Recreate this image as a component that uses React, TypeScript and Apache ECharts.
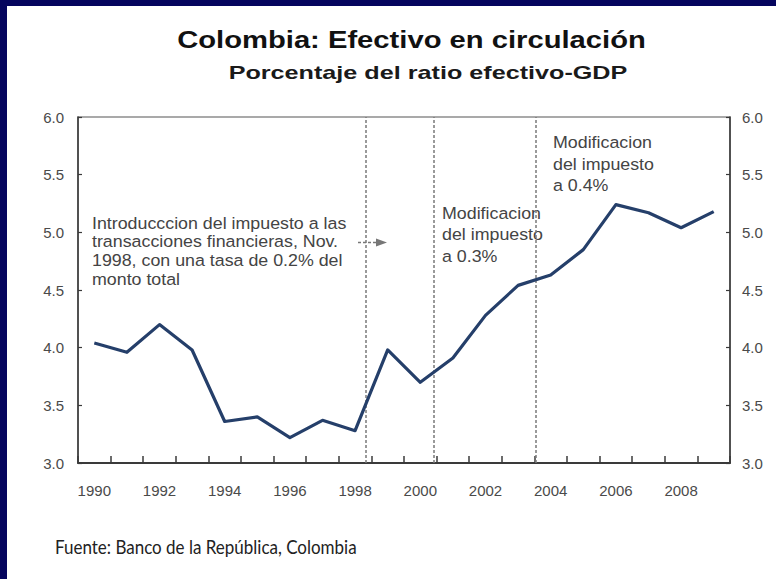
import React, { useEffect, useRef } from "react";
import * as echarts from "echarts";

const years = [
  "1990", "1991", "1992", "1993", "1994", "1995", "1996", "1997", "1998", "1999",
  "2000", "2001", "2002", "2003", "2004", "2005", "2006", "2007", "2008", "2009",
];
const cashToGdp = [
  4.04, 3.96, 4.2, 3.98, 3.36, 3.4, 3.22, 3.37, 3.28, 3.98,
  3.7, 3.91, 4.28, 4.54, 4.63, 4.85, 5.24, 5.17, 5.04, 5.18,
];
// dates (fractional years) of the tax events, drawn as dashed vertical lines
const eventDates = [1998.33, 2000.4, 2003.55];
const yMin = 3.0;
const yMax = 6.0;
const yStep = 0.5;

const titleText = "Colombia: Efectivo en circulación";
const subtitleText = "Porcentaje del ratio efectivo-GDP";
const note1 = [
  "Introducccion del impuesto a las",
  "transacciones financieras, Nov.",
  "1998, con una tasa de 0.2% del",
  "monto total",
];
const note2 = ["Modificacion", "del impuesto", "a 0.3%"];
const note3 = ["Modificacion", "del impuesto", "a 0.4%"];
const sourceText = "Fuente: Banco de la República, Colombia";

const AXIS_FONT = "'Liberation Sans', Arial, sans-serif";
const NOTE_FONT = "'Liberation Sans', Arial, sans-serif";

function noteText(x: number, y: number, lines: string[], lineHeight: number) {
  return {
    type: "text",
    x,
    y,
    scaleX: 1.08,
    style: {
      text: lines.join("\n"),
      fontFamily: NOTE_FONT,
      fontSize: 16.5,
      lineHeight,
      fill: "#444",
      textAlign: "left",
      textVerticalAlign: "top",
      align: "left",
      verticalAlign: "top",
    },
  };
}

export default function App() {
  const ref = useRef<HTMLDivElement>(null);
  useEffect(() => {
    if (!ref.current) return;
    const chart = echarts.init(ref.current, undefined, { renderer: "svg" });
    const axisColor = "#3a3a3a";
    const labelColor = "#4a4a4a";
    const yAxisBase = {
      type: "value",
      min: yMin,
      max: yMax,
      interval: yStep,
      splitLine: { show: false },
      axisLine: { show: true, lineStyle: { color: axisColor, width: 1.5 } },
      axisTick: { show: true, inside: true, length: 4, lineStyle: { color: axisColor, width: 1.2 } },
      axisLabel: {
        color: labelColor,
        fontFamily: AXIS_FONT,
        fontSize: 15,
        formatter: (v: number) => v.toFixed(1),
      },
    };
    chart.setOption({
      animation: false,
      backgroundColor: "#05055e",
      grid: {
        left: 78,
        right: 46,
        top: 117,
        bottom: 116,
        show: true,
        borderColor: "#555",
        borderWidth: 1.2,
        backgroundColor: "transparent",
      },
      xAxis: [
        {
          type: "category",
          data: years,
          boundaryGap: true,
          axisLine: { show: true, lineStyle: { color: axisColor, width: 2 } },
          axisTick: {
            show: true,
            inside: true,
            length: 7,
            interval: 0,
            alignWithLabel: false,
            lineStyle: { color: axisColor, width: 1.5 },
          },
          axisLabel: {
            interval: 1,
            color: labelColor,
            fontFamily: AXIS_FONT,
            fontSize: 15,
            margin: 20,
          },
          splitLine: { show: false },
        },
        {
          type: "value",
          min: 1989.5,
          max: 2009.5,
          show: false,
          splitLine: { show: false },
        },
      ],
      yAxis: [
        { ...yAxisBase, position: "left", axisLabel: { ...yAxisBase.axisLabel, margin: 14 } },
        { ...yAxisBase, position: "right", axisLabel: { ...yAxisBase.axisLabel, margin: 12 } },
      ],
      series: [
        {
          type: "line",
          data: cashToGdp,
          xAxisIndex: 0,
          yAxisIndex: 0,
          symbol: "none",
          lineStyle: { color: "#253f6a", width: 3.2, join: "round" },
          z: 5,
        },
        {
          type: "line",
          xAxisIndex: 1,
          yAxisIndex: 0,
          data: [],
          symbol: "none",
          markLine: {
            silent: true,
            symbol: "none",
            label: { show: false },
            lineStyle: { color: "#7a7a7a", width: 1.5, type: [3, 2] },
            data: eventDates.map((d) => ({ xAxis: d })),
          },
        },
      ],
      graphic: [
        {
          type: "rect",
          z: -10,
          silent: true,
          shape: { x: 7, y: 6, width: 769, height: 573 },
          style: { fill: "#ffffff" },
        },
        {
          type: "text",
          x: 411.5,
          y: 40,
          scaleX: 1.27,
          style: {
            text: titleText,
            fontFamily: "'Liberation Sans', Arial, sans-serif",
            fontWeight: "bold",
            fontSize: 23,
            fill: "#111",
            textAlign: "center",
            textVerticalAlign: "middle",
            align: "center",
            verticalAlign: "middle",
          },
        },
        {
          type: "text",
          x: 428,
          y: 73,
          scaleX: 1.4,
          style: {
            text: subtitleText,
            fontFamily: "'Liberation Sans', Arial, sans-serif",
            fontWeight: "bold",
            fontSize: 18,
            fill: "#1a1a1a",
            textAlign: "center",
            textVerticalAlign: "middle",
            align: "center",
            verticalAlign: "middle",
          },
        },
        noteText(92, 213.6, note1, 18.7),
        noteText(442, 202, note2, 21.5),
        noteText(553, 132, note3, 21.2),
        {
          type: "line",
          shape: { x1: 358, y1: 242.5, x2: 378, y2: 242.5 },
          style: { stroke: "#777", lineWidth: 1.5, lineDash: [3, 2] },
        },
        {
          type: "polygon",
          shape: { points: [[376, 238.5], [387, 242.5], [376, 246.5]] },
          style: { fill: "#777" },
        },
        {
          type: "text",
          x: 55,
          y: 547,
          scaleY: 1.1,
          style: {
            text: sourceText,
            fontFamily: "Lato, 'Open Sans', sans-serif",
            fontSize: 17,
            fill: "#222",
            textAlign: "left",
            textVerticalAlign: "middle",
            align: "left",
            verticalAlign: "middle",
          },
        },
      ],
    });
    return () => chart.dispose();
  }, []);
  return (
    <div
      ref={ref}
      style={{ position: "fixed", left: 0, top: 0, width: 776, height: 579 }}
    />
  );
}
